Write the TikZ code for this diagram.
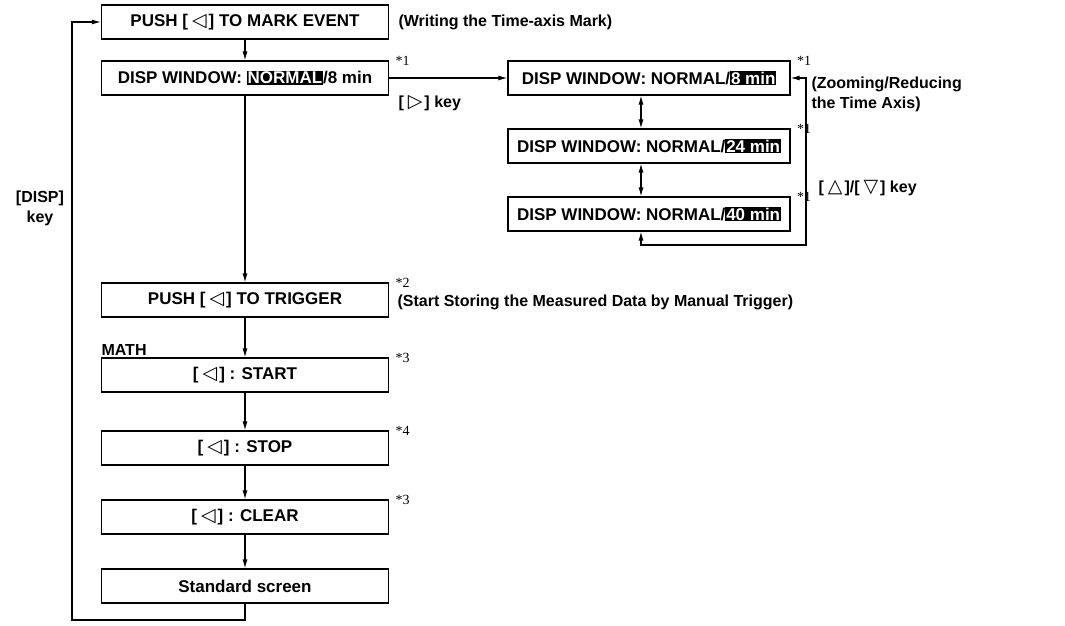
\documentclass[tikz,border=0pt]{standalone}
\usepackage{fontspec}
\setmainfont{Liberation Sans}
\newfontfamily\symf{DejaVu Sans}
\newfontfamily\notef{Liberation Serif}
\usetikzlibrary{arrows.meta}
\newcommand\symb[1]{\hspace{4pt}{\symf\fontsize{19}{20}\selectfont #1}\hspace{2pt}}
\newcommand\tl{\symb{◁}}
\newcommand\tr{\symb{▷}}
\newcommand\tu{\symb{△}}
\newcommand\td{\symb{▽}}
\newcommand\inv[1]{{\setlength{\fboxsep}{0.8pt}\colorbox{black}{\textcolor{white}{#1}}}}
\begin{document}
\begin{tikzpicture}[x=1pt,y=-1pt,
  font=\bfseries\fontsize{17}{20}\selectfont,
  line width=1.1pt,
  box/.style={draw, minimum width=287pt, minimum height=34pt, inner sep=0pt},
  rbox/.style={box, minimum width=282pt},
  arr/.style={-{Latex[length=9pt,width=5pt]}},
  darr/.style={{Latex[length=9pt,width=5pt]}-{Latex[length=9pt,width=5pt]}},
  note/.style={font=\notef\fontsize{14}{14}\selectfont, anchor=north west, inner sep=0pt},
  lbl/.style={anchor=west, inner sep=0pt, font=\bfseries\fontsize{16}{20}\selectfont}]
\useasboundingbox (0,0) rectangle (1065,626);

\node[box] (b1) at (245,22) {PUSH [\tl] TO MARK EVENT};
\node[box] (b2) at (245,78) {DISP WINDOW: \inv{NORMAL}/8 min};
\node[rbox] (r1) at (649,78) {DISP WINDOW: NORMAL/\inv{8 min}};
\node[rbox] (r2) at (649,146) {DISP WINDOW: NORMAL/\inv{24 min}};
\node[rbox] (r3) at (649,214) {DISP WINDOW: NORMAL/\inv{40 min}};
\node[box] (b3) at (245,300) {PUSH [\tl] TO TRIGGER};
\node[box] (b4) at (245,375) {[\tl] : START};
\node[box] (b5) at (245,448) {[\tl] : STOP};
\node[box] (b6) at (245,517) {[\tl] : CLEAR};
\node[box] (b7) at (245,586) {Standard screen};

\draw[arr] (b1.south) -- (b2.north);
\draw[arr] (b2.south) -- (b3.north);
\draw[arr] (b3.south) -- (b4.north);
\draw[arr] (b4.south) -- (b5.north);
\draw[arr] (b5.south) -- (b6.north);
\draw[arr] (b6.south) -- (b7.north);
\draw[arr] (b2.east) -- (r1.west);
\draw[darr] ([xshift=-8pt]r1.south) -- ([xshift=-8pt]r2.north);
\draw[darr] ([xshift=-8pt]r2.south) -- ([xshift=-8pt]r3.north);
\coordinate (rc) at (806,245);
\draw[darr] ([xshift=-8pt]r3.south) |- (rc) |- (r1.east);
\coordinate (lc) at (72,620);
\draw[arr] (b7.south) |- (lc) |- (b1.west);

\node[lbl] (t1) at (398,22) {(Writing the Time-axis Mark)};
\node[lbl] (t2) at (398,103) {[\tr] key};
\node[lbl, anchor=north west, align=left] (t3) at (811,76) {(Zooming/Reducing\\the Time Axis)};
\node[lbl] (t4) at (818,188) {[\tu]/[\td] key};
\node[lbl] (t5) at (397,302) {(Start Storing the Measured Data by Manual Trigger)};
\node[lbl] (t6) at (101,350) {MATH};
\node[lbl, anchor=center, align=center] (t7) at (40,208) {[DISP]\\key};

\node[note] (n1) at ([shift={(6pt,5pt)}]b2.north east) {*1};
\node[note] (n2) at ([shift={(6pt,5pt)}]r1.north east) {*1};
\node[note] (n3) at ([shift={(6pt,5pt)}]r2.north east) {*1};
\node[note] (n4) at ([shift={(6pt,5pt)}]r3.north east) {*1};
\node[note] (n5) at ([shift={(6pt,5pt)}]b3.north east) {*2};
\node[note] (n6) at ([shift={(6pt,5pt)}]b4.north east) {*3};
\node[note] (n7) at ([shift={(6pt,5pt)}]b5.north east) {*4};
\node[note] (n8) at ([shift={(6pt,5pt)}]b6.north east) {*3};
\end{tikzpicture}
\end{document}
